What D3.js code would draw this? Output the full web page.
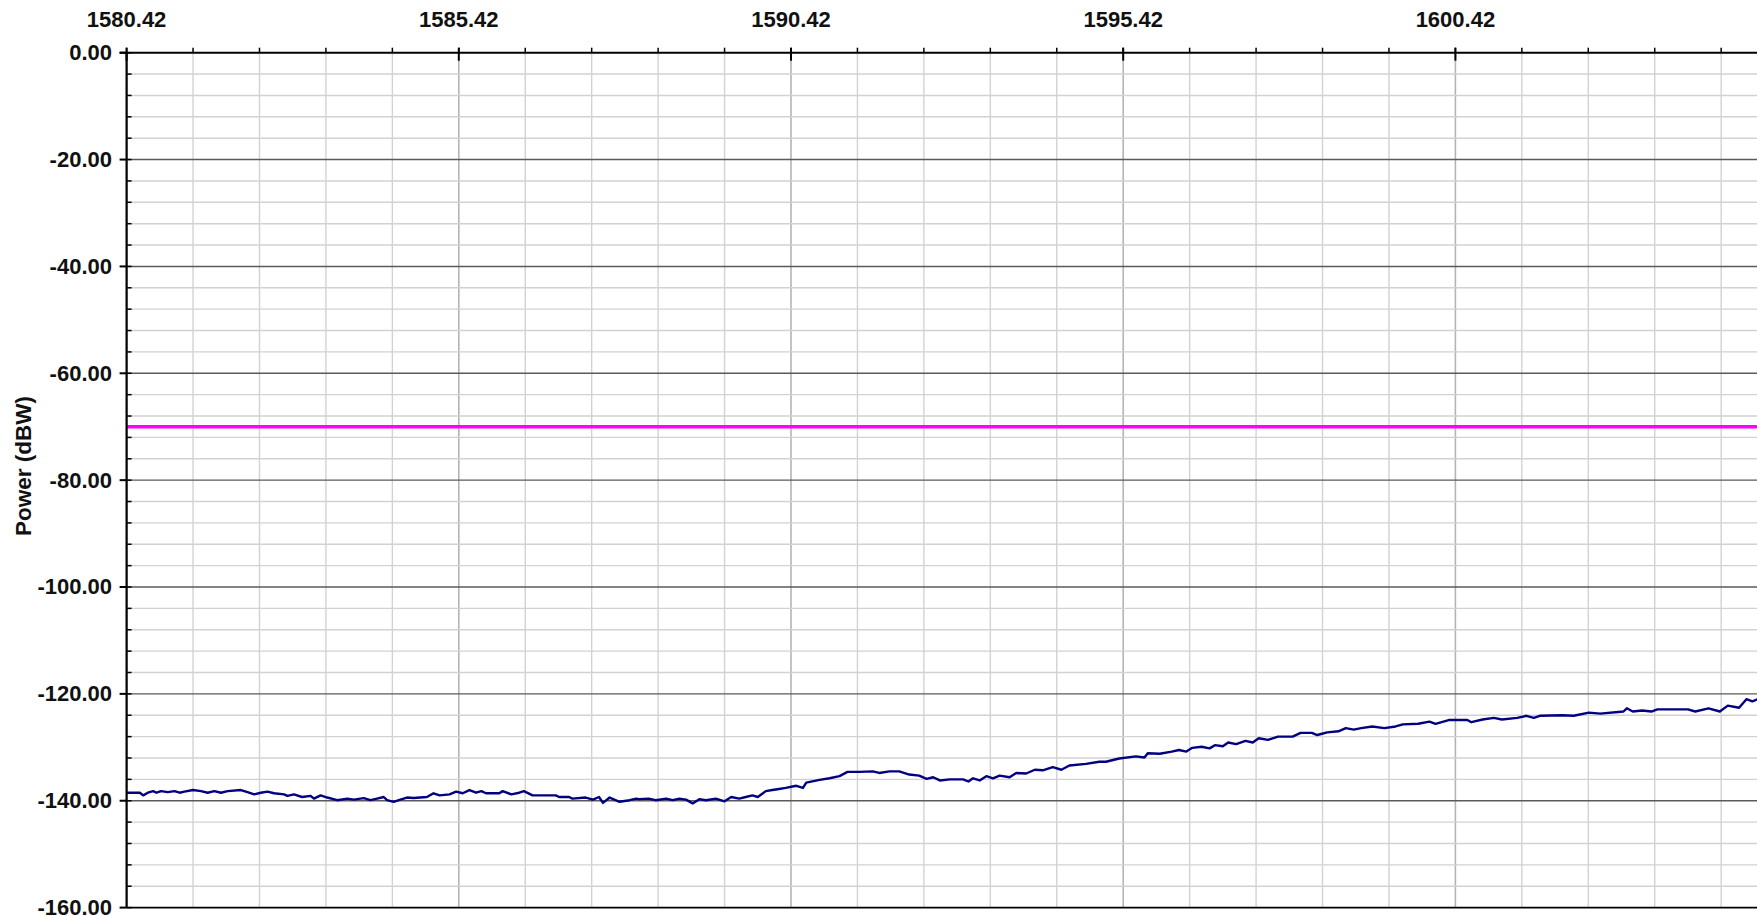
<!DOCTYPE html>
<html>
<head>
<meta charset="utf-8">
<script src="https://cdn.jsdelivr.net/npm/d3@7"></script>
<style>
  html, body { margin: 0; padding: 0; background: #fff; }
  svg { display: block; }
  text { font-family: "Liberation Sans", Arial, sans-serif; font-weight: bold; fill: #111; }
</style>
</head>
<body>
<svg id="chart" width="1757" height="916"></svg>
<script>
// ---------- data ----------
const xTickLabels = [1580.42, 1585.42, 1590.42, 1595.42, 1600.42];
const yTickLabels = [0, -20, -40, -60, -80, -100, -120, -140, -160];
const yAxisTitle = "Power (dBW)";
const thresholdLevel = -70;   // magenta limit line (dBW)

const freqMHz = [
  1580.42,1580.62,1580.67,1580.74,1580.82,1580.87,1580.94,1581.04,1581.14,1581.22,1581.29,1581.42,1581.54,1581.64,1581.74,1581.84,1581.94,1582.14,1582.24,1582.34,
  1582.44,1582.54,1582.64,1582.79,1582.84,1582.94,1583.06,1583.19,1583.24,1583.34,1583.44,1583.59,1583.74,1583.84,1583.99,1584.09,1584.19,1584.29,1584.34,1584.44,
  1584.54,1584.64,1584.74,1584.94,1585.04,1585.13,1585.28,1585.38,1585.48,1585.58,1585.68,1585.76,1585.83,1586.03,1586.08,1586.21,1586.33,1586.40,1586.53,1586.88,
  1586.93,1587.08,1587.13,1587.33,1587.44,1587.53,1587.59,1587.69,1587.84,1587.99,1588.09,
  1588.13,1588.28,1588.38,1588.54,1588.64,1588.74,1588.84,1588.94,1589.04,1589.14,1589.29,1589.42,1589.52,1589.64,1589.74,1589.84,1589.92,1590.04,1590.14,1590.24,
  1590.34,1590.50,1590.60,1590.65,1590.85,1591.00,1591.15,1591.27,1591.45,1591.65,1591.75,1591.90,1592.05,1592.20,1592.35,1592.46,1592.56,1592.66,1592.81,1593.01,
  1593.09,1593.16,1593.26,1593.36,1593.46,1593.56,1593.71,1593.81,1593.96,1594.09,1594.21,1594.36,1594.49,1594.61,1594.86,1595.06,1595.16,1595.36,1595.61,1595.74,
  1595.79,1595.97,
  1596.15,1596.26,1596.37,1596.46,1596.60,1596.72,1596.80,1596.92,1597.00,1597.12,1597.26,1597.37,1597.46,1597.60,1597.75,1597.97,1598.09,1598.26,1598.34,1598.49,
  1598.66,1598.77,1598.89,1599.00,1599.17,1599.35,1599.52,1599.63,1599.86,1600.03,1600.12,1600.32,1600.60,1600.66,1600.83,1601.00,1601.12,1601.35,1601.49,1601.60,
  1601.69,1602.03,1602.20,1602.43,1602.60,1602.95,1603.00,1603.09,1603.23,1603.37,1603.46,1603.92,1604.03,1604.23,1604.40,1604.52,1604.69,1604.80,1604.89,1604.97
];
const powerDbw = [
  -138.5,-138.5,-139.0,-138.5,-138.2,-138.5,-138.2,-138.4,-138.2,-138.5,-138.3,-138.0,-138.2,-138.5,-138.2,-138.5,-138.2,-138.0,-138.4,-138.8,
  -138.5,-138.3,-138.6,-138.8,-139.1,-138.8,-139.3,-139.1,-139.6,-139.0,-139.4,-139.9,-139.6,-139.8,-139.5,-139.9,-139.6,-139.3,-139.9,-140.2,
  -139.8,-139.4,-139.5,-139.3,-138.6,-139.0,-138.8,-138.3,-138.6,-138.0,-138.5,-138.2,-138.6,-138.6,-138.2,-138.8,-138.5,-138.2,-139.0,-139.0,
  -139.3,-139.3,-139.6,-139.4,-139.8,-139.3,-140.4,-139.4,-140.2,-139.9,-139.6,
  -139.7,-139.6,-139.9,-139.6,-139.9,-139.6,-139.8,-140.5,-139.7,-139.9,-139.6,-140.1,-139.3,-139.6,-139.3,-139.0,-139.3,-138.2,-138.0,-137.8,
  -137.6,-137.2,-137.6,-136.6,-136.1,-135.8,-135.4,-134.6,-134.6,-134.5,-134.8,-134.5,-134.5,-135.1,-135.3,-135.9,-135.6,-136.2,-136.0,-136.0,
  -136.4,-135.8,-136.2,-135.4,-135.8,-135.3,-135.6,-134.8,-134.9,-134.2,-134.3,-133.7,-134.2,-133.4,-133.1,-132.7,-132.7,-132.1,-131.7,-131.9,
  -131.1,-131.2,
  -130.8,-130.5,-130.8,-130.1,-129.9,-130.2,-129.6,-129.8,-129.1,-129.4,-128.8,-129.1,-128.3,-128.6,-128.0,-128.0,-127.3,-127.3,-127.7,-127.2,
  -127.0,-126.4,-126.7,-126.4,-126.1,-126.4,-126.1,-125.7,-125.6,-125.2,-125.6,-124.9,-124.9,-125.3,-124.8,-124.5,-124.8,-124.5,-124.1,-124.5,
  -124.1,-124.0,-124.1,-123.5,-123.7,-123.3,-122.7,-123.3,-123.1,-123.3,-122.9,-122.9,-123.3,-122.7,-123.3,-122.2,-122.6,-121.0,-121.4,-121.0
];

// ---------- layout ----------
const W = 1757, H = 916;
const plotLeft = 126.6, plotTop = 52.7, plotBottom = 907.6;
const pxPerMHz = 66.44;
const fontPx = 22;

const x = d3.scaleLinear()
  .domain([1580.42, 1605.42])
  .range([plotLeft, plotLeft + 25 * pxPerMHz]);
const y = d3.scaleLinear()
  .domain([0, -160])
  .range([plotTop, plotBottom]);

const fmt = v => v.toFixed(2);   // plain hyphen minus, as in the reference

const svg = d3.select("#chart");
svg.append("rect").attr("width", W).attr("height", H).attr("fill", "#fff");

svg.append("defs").append("clipPath").attr("id", "plotclip")
  .append("rect").attr("x", plotLeft).attr("y", plotTop - 1)
  .attr("width", W - plotLeft).attr("height", plotBottom - plotTop + 2);

const grid = svg.append("g").attr("clip-path", "url(#plotclip)");

// minor tick positions (every 1 MHz, every 4 dB)
const xMinor = d3.range(0, 26).map(i => 1580.42 + i);
const yMinor = d3.range(0, 41).map(i => -4 * i);

// vertical grid
grid.selectAll("line.vg").data(xMinor).join("line")
  .attr("x1", d => x(d)).attr("x2", d => x(d))
  .attr("y1", plotTop).attr("y2", plotBottom)
  .attr("stroke", (d, i) => i % 5 === 0 ? "#b4b4b4" : "#d2d2d2")
  .attr("stroke-width", (d, i) => i % 5 === 0 ? 1.6 : 1.4);

// horizontal minor grid
grid.selectAll("line.hg").data(yMinor.filter(v => v % 20 !== 0)).join("line")
  .attr("x1", plotLeft).attr("x2", W)
  .attr("y1", d => y(d)).attr("y2", d => y(d))
  .attr("stroke", "#d2d2d2").attr("stroke-width", 1.4);

// horizontal major grid
grid.selectAll("line.hm").data(yTickLabels.filter(v => v !== 0 && v !== -160)).join("line")
  .attr("x1", plotLeft).attr("x2", W)
  .attr("y1", d => y(d)).attr("y2", d => y(d))
  .attr("stroke", "#5a5a5a").attr("stroke-width", 1.4);

// threshold line
grid.append("line")
  .attr("x1", plotLeft).attr("x2", W)
  .attr("y1", y(thresholdLevel)).attr("y2", y(thresholdLevel))
  .attr("stroke", "#ff00ff").attr("stroke-width", 3.4);

// spectrum trace
const pts = freqMHz.map((f, i) => [f, powerDbw[i]]);
grid.append("path")
  .datum(pts)
  .attr("fill", "none")
  .attr("stroke", "#000080")
  .attr("stroke-width", 2.4)
  .attr("stroke-linejoin", "round")
  .attr("d", d3.line().x(d => x(d[0])).y(d => y(d[1])));

// bottom border line
svg.append("line")
  .attr("x1", plotLeft).attr("x2", W)
  .attr("y1", plotBottom).attr("y2", plotBottom)
  .attr("stroke", "#000").attr("stroke-width", 1.6);

// ---------- top axis ----------
const topAxis = svg.append("g");
topAxis.append("line")
  .attr("x1", plotLeft - 7).attr("x2", W)
  .attr("y1", plotTop).attr("y2", plotTop)
  .attr("stroke", "#000").attr("stroke-width", 2);
topAxis.selectAll("line.tminor").data(xMinor).join("line")
  .attr("x1", d => x(d)).attr("x2", d => x(d))
  .attr("y1", plotTop - 5).attr("y2", plotTop)
  .attr("stroke", "#000").attr("stroke-width", 1.5);
topAxis.selectAll("line.tmajor").data(xTickLabels).join("line")
  .attr("x1", d => x(d)).attr("x2", d => x(d))
  .attr("y1", plotTop - 5).attr("y2", plotTop + 8)
  .attr("stroke", "#000").attr("stroke-width", 2);
topAxis.selectAll("text").data(xTickLabels).join("text")
  .attr("x", d => x(d)).attr("y", 27)
  .attr("text-anchor", "middle")
  .attr("font-size", fontPx)
  .text(d => fmt(d));

// ---------- left axis ----------
const leftAxis = svg.append("g");
leftAxis.append("line")
  .attr("x1", plotLeft).attr("x2", plotLeft)
  .attr("y1", plotTop).attr("y2", plotBottom)
  .attr("stroke", "#000").attr("stroke-width", 2.2);
leftAxis.selectAll("line.lminor").data(yMinor).join("line")
  .attr("x1", plotLeft).attr("x2", plotLeft + 5)
  .attr("y1", d => y(d)).attr("y2", d => y(d))
  .attr("stroke", "#000").attr("stroke-width", 1.5);
leftAxis.selectAll("line.lmajor").data(yTickLabels).join("line")
  .attr("x1", plotLeft - 7).attr("x2", plotLeft)
  .attr("y1", d => y(d)).attr("y2", d => y(d))
  .attr("stroke", "#000").attr("stroke-width", 2);
leftAxis.selectAll("text").data(yTickLabels).join("text")
  .attr("x", 112).attr("y", d => y(d))
  .attr("dy", "0.34em")
  .attr("text-anchor", "end")
  .attr("font-size", fontPx)
  .text(d => fmt(d));

svg.append("text")
  .attr("transform", "translate(31,466) rotate(-90)")
  .attr("text-anchor", "middle")
  .attr("font-size", 22.5)
  .text(yAxisTitle);
</script>
</body>
</html>
